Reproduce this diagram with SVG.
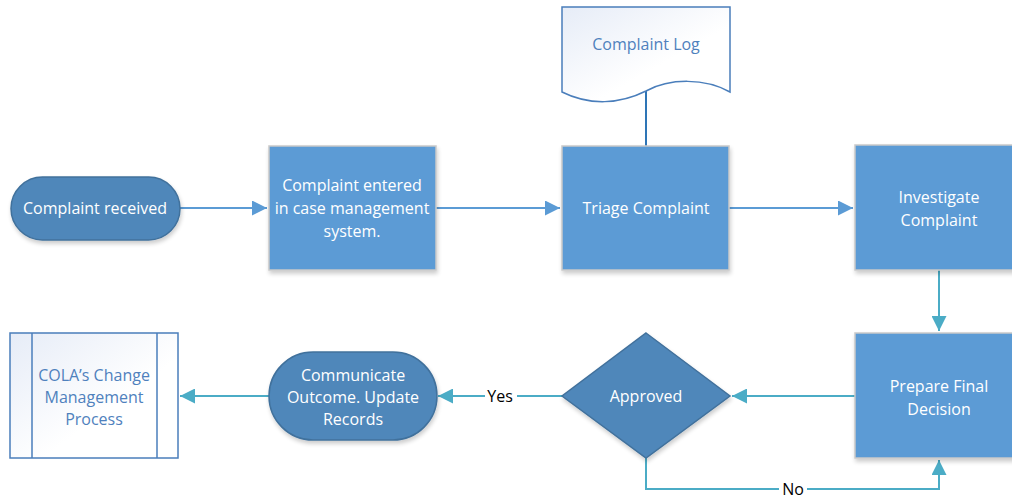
<svg xmlns="http://www.w3.org/2000/svg" width="1012" height="499" viewBox="0 0 1012 499">
<style>
.t{font-family:"Open Sans","Liberation Sans",sans-serif;font-size:16px;fill:#fff;text-anchor:middle}
.tb{font-family:"Open Sans","Liberation Sans",sans-serif;font-size:16px;fill:#4F81BD;text-anchor:middle}
.tk{font-family:"Open Sans","Liberation Sans",sans-serif;font-size:16px;fill:#000;text-anchor:middle}
.box{fill:#5B9BD5;stroke:#C9C9C9;stroke-width:1.5;filter:url(#sh)}
.pill{fill:#4F87BA;stroke:#41719C;stroke-width:1.5;filter:url(#sh)}
.c1{fill:none;stroke:#5B9BD5;stroke-width:2}
.c2{fill:none;stroke:#4BACC6;stroke-width:2}
.lt{fill:url(#lg);stroke:#4A7EBB;stroke-width:1.5}
</style>
<defs>
<filter id="sh" x="-10%" y="-10%" width="130%" height="130%">
<feGaussianBlur in="SourceAlpha" stdDeviation="2"/>
<feOffset dx="1" dy="3" result="b"/>
<feComponentTransfer><feFuncA type="linear" slope="0.2"/></feComponentTransfer>
<feMerge><feMergeNode/><feMergeNode in="SourceGraphic"/></feMerge>
</filter>
<linearGradient id="lg" x1="0" y1="0" x2="1" y2="1">
<stop offset="0" stop-color="#E6ECF7"/>
<stop offset="0.6" stop-color="#FFFFFF"/>
</linearGradient>
<marker id="a1" viewBox="0 0 10 10" refX="10" refY="5" markerWidth="7.5" markerHeight="7.5" orient="auto" markerUnits="strokeWidth">
<path d="M0,0 L10,5 L0,10 Z" fill="#5B9BD5"/>
</marker>
<marker id="a2" viewBox="0 0 10 10" refX="10" refY="5" markerWidth="7.5" markerHeight="7.5" orient="auto" markerUnits="strokeWidth">
<path d="M0,0 L10,5 L0,10 Z" fill="#4BACC6"/>
</marker>
</defs>
<g id="connectors">
<line class="c1" x1="180" y1="208" x2="267" y2="208" marker-end="url(#a1)"/>
<line class="c1" x1="436" y1="208" x2="560" y2="208" marker-end="url(#a1)"/>
<line class="c1" x1="729" y1="208" x2="853" y2="208" marker-end="url(#a1)"/>
<line x1="646" y1="91" x2="646" y2="146" stroke="#2E75B6" stroke-width="2"/>
<line class="c2" x1="939" y1="270" x2="939" y2="331" marker-end="url(#a2)"/>
<line class="c2" x1="855" y1="396" x2="732" y2="396" marker-end="url(#a2)"/>
<line class="c2" x1="562" y1="396" x2="438" y2="396" marker-end="url(#a2)"/>
<line class="c2" x1="269" y1="396" x2="180" y2="396" marker-end="url(#a2)"/>
<polyline class="c2" points="646,458 646,489 939,489 939,460" marker-end="url(#a2)"/>
<rect x="485" y="386" width="32" height="20" fill="#fff"/>
<text class="tk" x="500" y="402">Yes</text>
<rect x="779" y="480" width="28" height="19" fill="#fff"/>
<text class="tk" x="793" y="495">No</text>
</g>
<g id="n-received">
<rect class="pill" x="11" y="177" width="169" height="63" rx="31.5"/>
<text class="t" x="95" y="214">Complaint received</text>
</g>
<g id="n-entered">
<rect class="box" x="269" y="146" width="167" height="124"/>
<text class="t" x="352" y="191">Complaint entered</text>
<text class="t" x="352" y="214">in case management</text>
<text class="t" x="352" y="237">system.</text>
</g>
<g id="n-log">
<path class="lt" d="M562,7 H730 V92 C705,78 670,78 646,91 C620,104 590,106 562,92 Z"/>
<text class="tb" x="646" y="50">Complaint Log</text>
</g>
<g id="n-triage">
<rect class="box" x="562" y="146" width="167" height="124"/>
<text class="t" x="646" y="214">Triage Complaint</text>
</g>
<g id="n-investigate">
<rect class="box" x="855" y="145" width="168" height="125"/>
<text class="t" x="939" y="203">Investigate</text>
<text class="t" x="939" y="226">Complaint</text>
</g>
<g id="n-prepare">
<rect class="box" x="855" y="333" width="168" height="125"/>
<text class="t" x="939" y="392">Prepare Final</text>
<text class="t" x="939" y="415">Decision</text>
</g>
<g id="n-approved">
<path class="pill" d="M646,333 L730,396 L646,458 L562,396 Z"/>
<text class="t" x="646" y="402">Approved</text>
</g>
<g id="n-communicate">
<rect class="pill" x="269" y="352" width="168" height="88" rx="44"/>
<text class="t" x="353" y="381">Communicate</text>
<text class="t" x="353" y="403">Outcome. Update</text>
<text class="t" x="353" y="425">Records</text>
</g>
<g id="n-cola">
<rect class="lt" x="10" y="333" width="168" height="125"/>
<line x1="32" y1="333" x2="32" y2="458" stroke="#4A7EBB" stroke-width="1.5"/>
<line x1="157" y1="333" x2="157" y2="458" stroke="#4A7EBB" stroke-width="1.5"/>
<text class="tb" x="94" y="381">COLA’s Change</text>
<text class="tb" x="94" y="403">Management</text>
<text class="tb" x="94" y="425">Process</text>
</g>
</svg>
